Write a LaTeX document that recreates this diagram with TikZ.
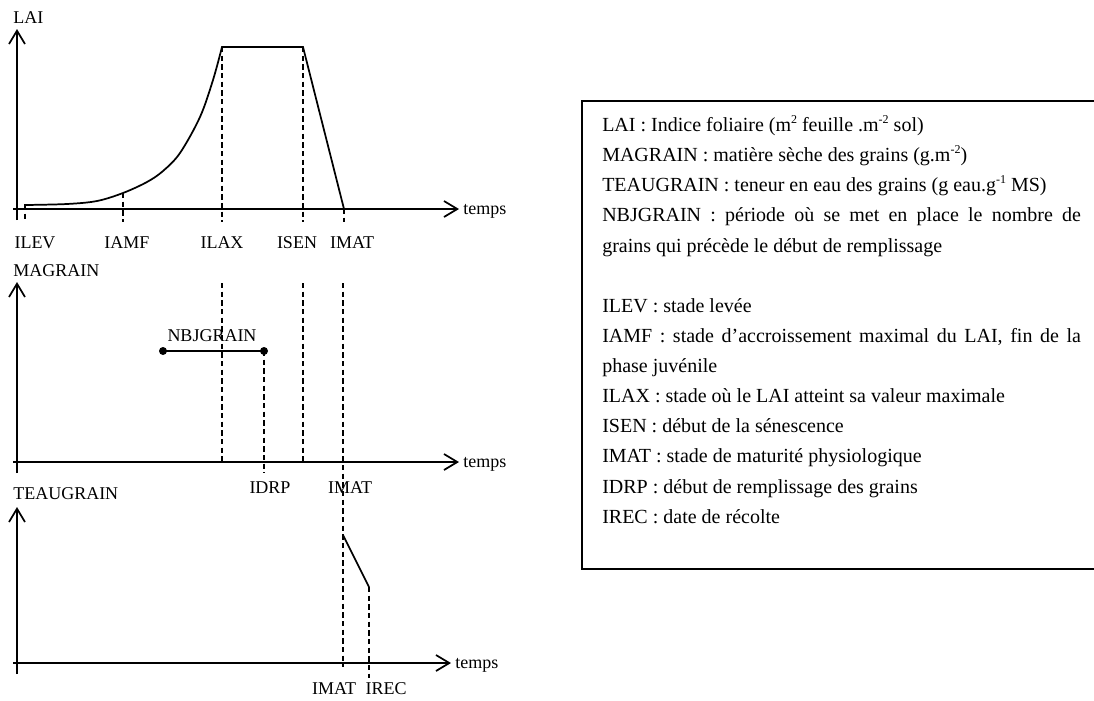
\documentclass[tikz,border=0pt]{standalone}
\usepackage{fontspec}
\setmainfont{Liberation Serif}
\usetikzlibrary{arrows.meta,positioning}
\newcommand\expo[1]{\raisebox{0.42em}{\fontsize{9}{9}\selectfont #1}}

\begin{document}
\begin{tikzpicture}[x=0.75pt,y=-0.75pt,
    axe/.style={line width=1.3pt,-{Straight Barb[length=10pt,width=12pt]}},
    courbe/.style={line width=1.3pt},
    pointille/.style={line width=0.9pt,dash pattern=on 4pt off 2.5pt},
    lbl/.style={font=\fontsize{13.5}{16}\selectfont,inner sep=0pt,anchor=base},
    legende/.style={font=\fontsize{15}{22.6}\selectfont,inner sep=0pt,anchor=base west,
      text width=359pt,align=justify}]
    \useasboundingbox (0,0) rectangle (1094,700);

    % les trois paires d'axes
    \foreach \yo/\yt/\xt/\n in {209/29/459/1,462/282/459/2,663/507/451/3}
    {
      \draw[axe] (17,\yo+11) -- (17,\yt);
      \draw[axe] (13,\yo) -- (\xt,\yo);
      \node[lbl,anchor=base west] (temps\n) at (\xt+4,\yo+5) {temps};
    }
    \node[lbl,anchor=base west] (lai) at (13,23) {LAI};
    \node[lbl,anchor=base west] (magrain) at (13,276) {MAGRAIN};
    \node[lbl,anchor=base west] (teaugrain) at (13,499) {TEAUGRAIN};

    % LAI
    \coordinate (lev) at (25,205);
    \coordinate (amf) at (123,193);
    \coordinate (lax) at (222,47);
    \coordinate (sen) at (303,47);
    \coordinate (mat) at (344,209);
    \draw[courbe] (25,209) -- (lev) -- plot[smooth,tension=.55] coordinates
      {(25,205) (67,204) (97,201) (123,193) (147,182) (163,171) (180,153) (200,117) (213,80) (222,47)}
      -- (sen) -- (mat);
    \foreach \p in {lev,amf,lax,sen,mat}
    {
      \draw[pointille] (\p) -- (\p |- 0,222);
    }
    \node[lbl] (ilev) at (35,248) {ILEV};
    \node[lbl] (iamf) at (127,248) {IAMF};
    \node[lbl] (ilax) at (222,248) {ILAX};
    \node[lbl] (isen) at (297,248) {ISEN};
    \node[lbl] (imat1) at (352,248) {IMAT};

    % MAGRAIN
    \coordinate (debut) at (163,351);
    \coordinate (drp) at (264,351);
    \draw[courbe] (debut) -- (drp);
    \fill (debut) circle (3pt);
    \fill (drp) circle (3pt);
    \node[lbl] (nbjgrain) at (212,341) {NBJGRAIN};
    \begin{scope}[pointille]
      \draw (lax |- 0,283) -- (lax |- 0,462);
      \draw (sen |- 0,283) -- (sen |- 0,462);
      \draw (343,283) -- (343,667);
      \draw (drp) -- (264,473);
    \end{scope}
    \node[lbl] (idrp) at (270,493) {IDRP};
    \node[lbl] (imat2) at (350,493) {IMAT};

    % TEAUGRAIN
    \coordinate (eau) at (343,535);
    \coordinate (rec) at (369,587);
    \draw[courbe] (eau) -- (rec);
    \draw[pointille] (rec) -- (369,678);
    \node[lbl] (imat3) at (334,694) {IMAT};
    \node[lbl] (irec) at (386,694) {IREC};

    % legende
    \draw[line width=1.1pt] (1094,101) -- (582,101) -- (582,569) -- (1094,569);
    \node[legende] (texte) at (602,131.5) {%
      LAI : Indice foliaire (m\expo{2} feuille .m\expo{-2} sol)\par
      MAGRAIN : matière sèche des grains (g.m\expo{-2})\par
      TEAUGRAIN : teneur en eau des grains (g eau.g\expo{-1} MS)\par
      NBJGRAIN : période où se met en place le nombre de\linebreak grains qui précède le début de remplissage\par
      \mbox{}\par
      ILEV : stade levée\par
      IAMF : stade d’accroissement maximal du LAI, fin de la\linebreak phase juvénile\par
      ILAX : stade où le LAI atteint sa valeur maximale\par
      ISEN : début de la sénescence\par
      IMAT : stade de maturité physiologique\par
      IDRP : début de remplissage des grains\par
      IREC : date de récolte};
\end{tikzpicture}
\end{document}
